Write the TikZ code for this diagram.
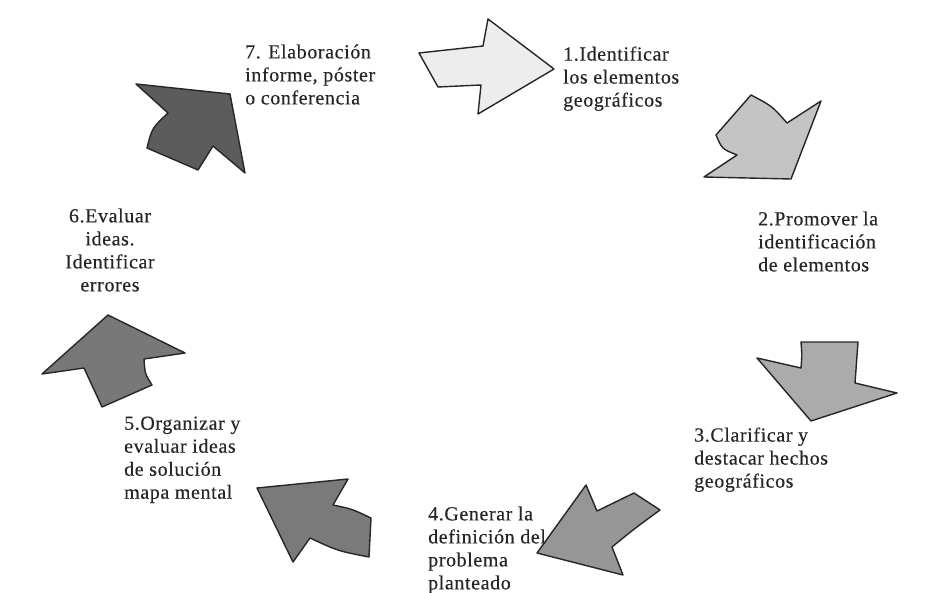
\documentclass[tikz,border=0pt]{standalone}
\usepackage{fontspec}
\newfontfamily\lblfont[LetterSpace=3, FakeBold=0.3]{Liberation Serif}

\begin{document}
\begin{tikzpicture}[x=1pt, y=-1pt,
  flecha/.style={draw=black!85, line width=1.4pt, line join=round},
  paso/.style={inner sep=0pt, align=left, anchor=north west, text=black!85,
    font=\lblfont\fontsize{20}{23}\selectfont}]
  \useasboundingbox[fill=white] (0,0) rectangle (939,593);
  % flechas del ciclo
  \draw[flecha, fill=black!7] (419,53) -- (483,46) -- (488,19) -- (554,69)
    -- (478,114) -- (481,85) -- (438,87) -- cycle;
  \draw[flecha, fill=black!23] (751,95) .. controls (772,106) .. (787,123)
    -- (821,101) -- (791,179) -- (704,177) -- (737,155)
    .. controls (722,149) .. (716,135) -- cycle;
  \draw[flecha, fill=black!33] (801,342) -- (858,342) -- (855,383)
    -- (897,393) -- (811,421) -- (757,358) -- (801,368)
    .. controls (802,355) .. (801,342) -- cycle;
  \draw[flecha, fill=black!41] (586,485) -- (597,511) -- (634,493) -- (660,510)
    .. controls (634,529) .. (612,547) -- (623,575) -- (537,553) -- cycle;
  \draw[flecha, fill=black!52] (257,488) -- (348,479) -- (333,505)
    .. controls (352,509) .. (371,518) -- (369,557)
    .. controls (338,551) .. (310,538) -- (293,562) -- cycle;
  \draw[flecha, fill=black!53] (108,315) -- (185,353) -- (144,359)
    .. controls (145,374) .. (152,385) -- (102,407) -- (84,368) -- (42,374) -- cycle;
  \draw[flecha, fill=black!64] (136,84) -- (230,94) -- (245,173) -- (213,146)
    -- (198,170) -- (147,148)
    .. controls (152,128) .. (168,113) -- cycle;
  % pasos
  \node[paso] (p1) at (563,46.3) {1.Identificar\\los elementos\\geográficos};
  \node[paso] (p2) at (758,211.3) {2.Promover la\\identificación\\de elementos};
  \node[paso] (p3) at (694,427.3) {3.Clarificar y\\destacar hechos\\geográficos};
  \node[paso] (p4) at (428,506.3) {4.Generar la\\definición del\\problema\\planteado};
  \node[paso] (p5) at (124,416.3) {5.Organizar y\\evaluar ideas\\de solución\\mapa mental};
  \node[paso, anchor=north, align=center] (p6) at (110,208.3) {6.Evaluar\\ideas.\\Identificar\\errores};
  \node[paso] (p7) at (245,44.3) {7. Elaboración\\informe, póster\\o conferencia};
\end{tikzpicture}
\end{document}
